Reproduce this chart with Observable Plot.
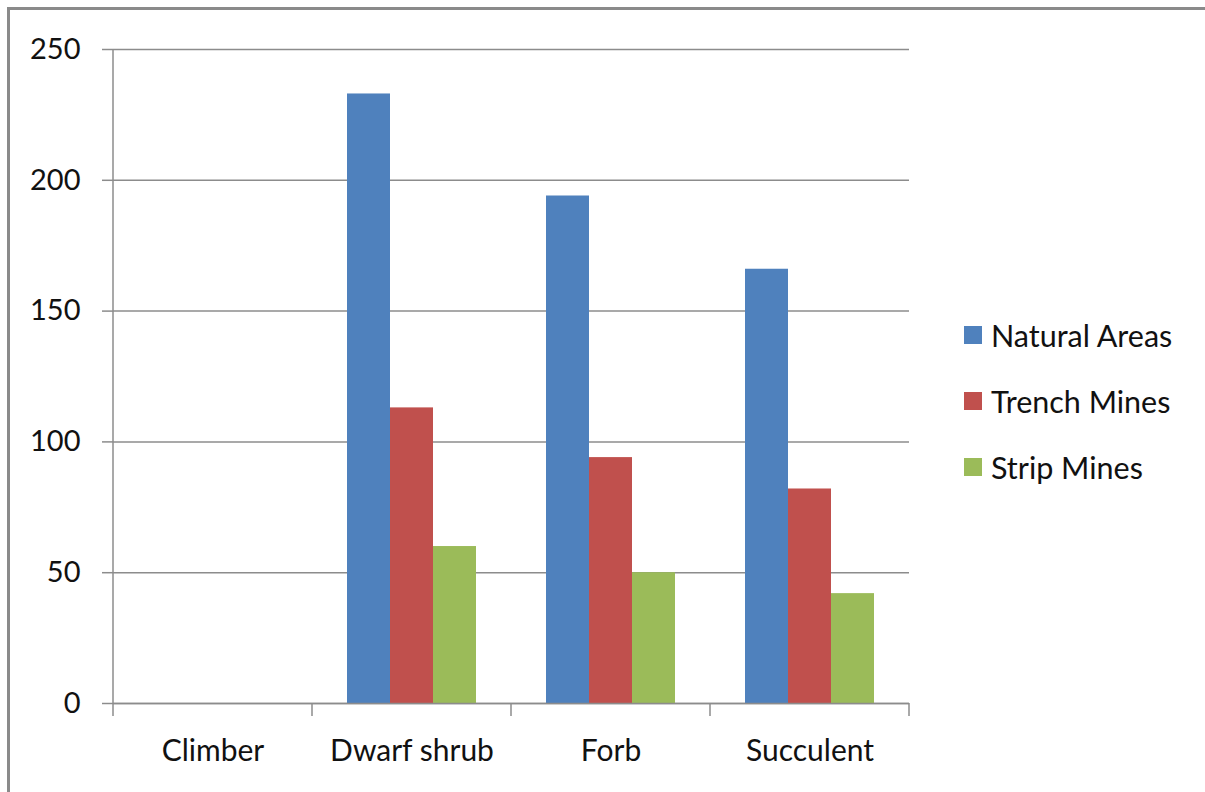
<!DOCTYPE html>
<html>
<head>
<meta charset="utf-8">
<script src="https://cdn.jsdelivr.net/npm/d3@7"></script>
<script src="https://cdn.jsdelivr.net/npm/@observablehq/plot@0.6"></script>
<style>
  html, body { margin: 0; padding: 0; background: #fff; }
  #wrap { position: relative; width: 1205px; height: 792px; overflow: hidden; font-family: Lato, "Open Sans", sans-serif; }
  #frame { position: absolute; left: 7px; top: 7px; width: 1300px; height: 900px; border-left: 3px solid #8a8a8a; border-top: 3px solid #8a8a8a; box-sizing: border-box; pointer-events: none; }
  #chart { position: absolute; left: 0; top: 0; }
  #legend { position: absolute; left: 964px; top: 302px; }
  .item { display: flex; align-items: center; height: 66px; font-size: 30.5px; color: #111; }
  .sw { width: 18px; height: 18px; margin-right: 9px; }
</style>
</head>
<body>
<div id="wrap">
  <div id="chart"></div>
  <div id="legend"></div>
  <div id="frame"></div>
</div>
<script>
const categories = ["Climber", "Dwarf shrub", "Forb", "Succulent"];
const series = ["Natural Areas", "Trench Mines", "Strip Mines"];
const naturalAreas = [0, 233, 194, 166];
const trenchMines = [0, 113, 94, 82];
const stripMines = [0, 60, 50, 42];
const yTicks = [0, 50, 100, 150, 200, 250];
const colors = ["#4F81BD", "#C0504D", "#9BBB59"];

const seriesValues = [naturalAreas, trenchMines, stripMines];
const data = [];
categories.forEach((c, i) => {
  series.forEach((s, j) => data.push({category: c, series: s, value: seriesValues[j][i]}));
});

const grey = "#8c8c8c";
const plot = Plot.plot({
  width: 1205,
  height: 792,
  marginLeft: 111,
  marginRight: 295,
  marginTop: 49,
  marginBottom: 89,
  style: {fontFamily: "Lato, 'Open Sans', sans-serif", fontSize: "28px", color: "#111", background: "transparent"},
  fx: {domain: categories, padding: 0, label: null},
  x: {domain: series, paddingInner: 0, paddingOuter: 0.773, axis: null},
  y: {domain: [0, 250], label: null},
  color: {domain: series, range: colors},
  marks: [
    Plot.gridY(yTicks, {stroke: grey, strokeOpacity: 1, strokeWidth: 1.5}),
    Plot.barY(data, {fx: "category", x: "series", y: "value", fill: "series"}),
    Plot.ruleY([0], {stroke: grey, strokeWidth: 1.5}),
    Plot.axisY(yTicks, {tickSize: 11, tickPadding: 22, stroke: grey, strokeWidth: 1.5, strokeOpacity: 1, label: null, fontSize: 29, fill: "#111"}),
    Plot.axisFx({anchor: "bottom", tickSize: 0, tickPadding: 36, label: null, fontSize: 30, fill: "#111"})
  ]
});
document.getElementById("chart").appendChild(plot);

// y axis line and category boundary ticks drawn from the plot's scales
const fx = plot.scale("fx");
const y = plot.scale("y");
const svg = d3.select(plot);
const step = fx.bandwidth ?? fx.step;
const bounds = categories.map(c => fx.apply(c));
bounds.push(fx.apply(categories[categories.length - 1]) + step);
const g = svg.append("g").attr("stroke", grey).attr("stroke-width", 1.5);
g.append("line").attr("x1", bounds[0]).attr("x2", bounds[0]).attr("y1", y.apply(250)).attr("y2", y.apply(0));
bounds.forEach(b => {
  g.append("line").attr("x1", b).attr("x2", b).attr("y1", y.apply(0)).attr("y2", y.apply(0) + 13);
});

// legend
const legend = document.getElementById("legend");
series.forEach((s, i) => {
  const it = document.createElement("div");
  it.className = "item";
  const sw = document.createElement("div");
  sw.className = "sw";
  sw.style.background = colors[i];
  const t = document.createElement("span");
  t.textContent = s;
  it.appendChild(sw);
  it.appendChild(t);
  legend.appendChild(it);
});
</script>
</body>
</html>
